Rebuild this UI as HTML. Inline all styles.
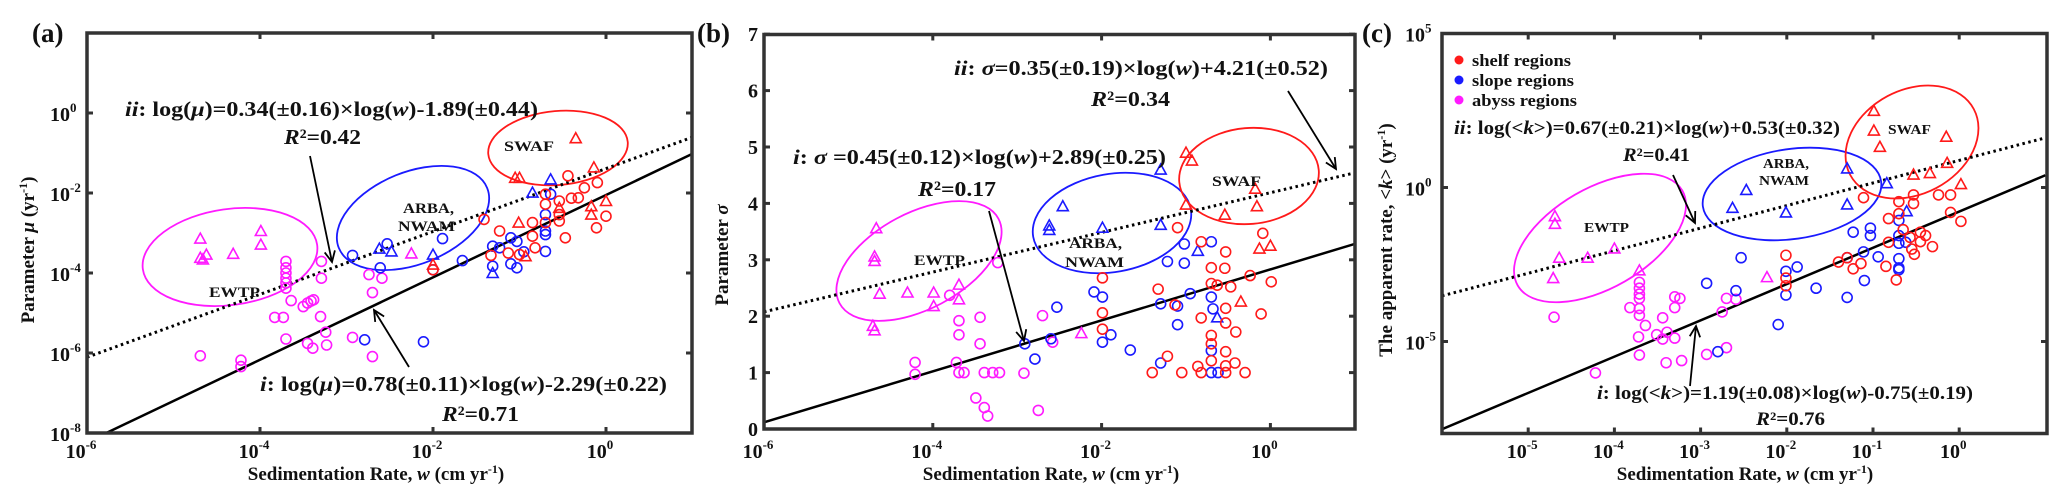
<!DOCTYPE html>
<html><head><meta charset="utf-8"><style>
html,body{margin:0;padding:0;background:#fff}
svg{display:block}
text{font-family:"Liberation Serif",serif;font-weight:bold;fill:#111}
</style></head><body>
<svg id="fig" width="2067" height="494" viewBox="0 0 2067 494" xmlns="http://www.w3.org/2000/svg">
<defs>
<clipPath id="clipA"><rect x="87" y="33" width="605" height="400"/></clipPath>
<clipPath id="clipB"><rect x="764" y="34.5" width="591" height="394.5"/></clipPath>
<clipPath id="clipC"><rect x="1442" y="33.5" width="605" height="400"/></clipPath>
</defs>
<g id="layer"></g>
<!-- panel labels -->
<text x="32" y="42" font-size="27">(a)</text>
<text x="697" y="42" font-size="27">(b)</text>
<text x="1362" y="42" font-size="27">(c)</text>
<!-- axis titles -->
<text x="376" y="480" font-size="19" text-anchor="middle">Sedimentation Rate, <tspan font-style="italic">w</tspan> (cm yr<tspan dy="-7" font-size="12">-1</tspan><tspan dy="7">)</tspan></text>
<text x="1051" y="480" font-size="19" text-anchor="middle">Sedimentation Rate, <tspan font-style="italic">w</tspan> (cm yr<tspan dy="-7" font-size="12">-1</tspan><tspan dy="7">)</tspan></text>
<text x="1745" y="480" font-size="19" text-anchor="middle">Sedimentation Rate, <tspan font-style="italic">w</tspan> (cm yr<tspan dy="-7" font-size="12">-1</tspan><tspan dy="7">)</tspan></text>
<text transform="translate(34,250) rotate(-90)" font-size="19" text-anchor="middle">Parameter <tspan font-style="italic">μ</tspan> (yr<tspan dy="-7" font-size="12">-1</tspan><tspan dy="7">)</tspan></text>
<text transform="translate(728,255) rotate(-90)" font-size="19" text-anchor="middle">Parameter <tspan font-style="italic">σ</tspan></text>
<text transform="translate(1392,240) rotate(-90)" font-size="19" text-anchor="middle">The apparent rate, &lt;<tspan font-style="italic">k</tspan>&gt; (yr<tspan dy="-7" font-size="12">-1</tspan><tspan dy="7">)</tspan></text>
<!-- annotations A -->
<text x="125" y="116" font-size="21" textLength="413" lengthAdjust="spacingAndGlyphs"><tspan font-style="italic">ii</tspan>: log(<tspan font-style="italic">μ</tspan>)=0.34(±0.16)×log(<tspan font-style="italic">w</tspan>)-1.89(±0.44)</text>
<text x="284" y="144" font-size="21" textLength="77" lengthAdjust="spacingAndGlyphs"><tspan font-style="italic">R</tspan>²=0.42</text>
<text x="260" y="391" font-size="21" textLength="407" lengthAdjust="spacingAndGlyphs"><tspan font-style="italic">i</tspan>: log(<tspan font-style="italic">μ</tspan>)=0.78(±0.11)×log(<tspan font-style="italic">w</tspan>)-2.29(±0.22)</text>
<text x="442" y="421" font-size="21" textLength="77" lengthAdjust="spacingAndGlyphs"><tspan font-style="italic">R</tspan>²=0.71</text>
<text x="504" y="151" font-size="15" textLength="50" lengthAdjust="spacingAndGlyphs">SWAF</text>
<text x="403" y="213" font-size="15" textLength="51" lengthAdjust="spacingAndGlyphs">ARBA,</text>
<text x="398" y="231" font-size="15" textLength="57" lengthAdjust="spacingAndGlyphs">NWAM</text>
<text x="209" y="297" font-size="15" textLength="51" lengthAdjust="spacingAndGlyphs">EWTP</text>
<!-- annotations B -->
<text x="954" y="75" font-size="21" textLength="374" lengthAdjust="spacingAndGlyphs"><tspan font-style="italic">ii</tspan>: <tspan font-style="italic">σ</tspan>=0.35(±0.19)×log(<tspan font-style="italic">w</tspan>)+4.21(±0.52)</text>
<text x="1091" y="106" font-size="21" textLength="79" lengthAdjust="spacingAndGlyphs"><tspan font-style="italic">R</tspan>²=0.34</text>
<text x="793" y="164" font-size="21" textLength="373" lengthAdjust="spacingAndGlyphs"><tspan font-style="italic">i</tspan>: <tspan font-style="italic">σ</tspan> =0.45(±0.12)×log(<tspan font-style="italic">w</tspan>)+2.89(±0.25)</text>
<text x="918" y="196" font-size="21" textLength="78" lengthAdjust="spacingAndGlyphs"><tspan font-style="italic">R</tspan>²=0.17</text>
<text x="1212" y="186" font-size="15" textLength="49" lengthAdjust="spacingAndGlyphs">SWAF</text>
<text x="1069" y="248" font-size="15" textLength="53" lengthAdjust="spacingAndGlyphs">ARBA,</text>
<text x="1065" y="267" font-size="15" textLength="59" lengthAdjust="spacingAndGlyphs">NWAM</text>
<text x="914" y="265" font-size="15" textLength="51" lengthAdjust="spacingAndGlyphs">EWTP</text>
<!-- annotations C -->
<text x="1454" y="134" font-size="19" textLength="386" lengthAdjust="spacingAndGlyphs"><tspan font-style="italic">ii</tspan>: log(&lt;<tspan font-style="italic">k</tspan>&gt;)=0.67(±0.21)×log(<tspan font-style="italic">w</tspan>)+0.53(±0.32)</text>
<text x="1623" y="161" font-size="19" textLength="67" lengthAdjust="spacingAndGlyphs"><tspan font-style="italic">R</tspan>²=0.41</text>
<text x="1597" y="399" font-size="19" textLength="376" lengthAdjust="spacingAndGlyphs"><tspan font-style="italic">i</tspan>: log(&lt;<tspan font-style="italic">k</tspan>&gt;)=1.19(±0.08)×log(<tspan font-style="italic">w</tspan>)-0.75(±0.19)</text>
<text x="1756" y="425" font-size="19" textLength="69" lengthAdjust="spacingAndGlyphs"><tspan font-style="italic">R</tspan>²=0.76</text>
<text x="1888" y="134" font-size="14" textLength="43" lengthAdjust="spacingAndGlyphs">SWAF</text>
<text x="1763" y="168" font-size="14" textLength="46" lengthAdjust="spacingAndGlyphs">ARBA,</text>
<text x="1759" y="185" font-size="14" textLength="50" lengthAdjust="spacingAndGlyphs">NWAM</text>
<text x="1584" y="232" font-size="14" textLength="45" lengthAdjust="spacingAndGlyphs">EWTP</text>
<!-- legend C -->
<g>
<circle cx="1459" cy="60" r="4.5" fill="#ff1a1a"/>
<text x="1472" y="66" font-size="17" textLength="99" lengthAdjust="spacingAndGlyphs">shelf regions</text>
<circle cx="1459" cy="80" r="4.5" fill="#1a1aff"/>
<text x="1472" y="86" font-size="17" textLength="102" lengthAdjust="spacingAndGlyphs">slope regions</text>
<circle cx="1459" cy="100" r="4.5" fill="#ff1aff"/>
<text x="1472" y="106" font-size="17" textLength="105" lengthAdjust="spacingAndGlyphs">abyss regions</text>
</g>
</svg>
<script>
// ===== Panel A data: [log10 w, log10 mu] =====
const aMagTri=[[-4.69,-3.14],[-4.69,-3.62],[-4.62,-3.54],[-4.66,-3.66],[-4.31,-3.52],[-3.99,-2.95],[-3.99,-3.29],[-2.25,-3.51]];
const aMagCir=[[-4.69,-6.07],[-4.22,-6.18],[-4.22,-6.34],[-3.7,-3.71],[-3.7,-3.87],[-3.7,-4.0],[-3.7,-4.13],[-3.7,-4.25],[-3.7,-4.38],[-3.64,-4.69],[-3.83,-5.11],[-3.73,-5.11],[-3.7,-5.65],[-3.5,-4.84],[-3.45,-4.75],[-3.41,-4.7],[-3.38,-4.67],[-3.29,-3.71],[-3.29,-4.13],[-3.3,-5.09],[-3.24,-5.48],[-3.23,-5.8],[-3.45,-5.76],[-3.39,-5.88],[-2.93,-5.61],[-2.74,-4.04],[-2.59,-4.13],[-2.7,-4.49],[-2.7,-6.09]];
const aBluTri=[[-2.62,-3.39],[-2.48,-3.46],[-2.0,-3.54],[-1.31,-4.0],[-0.85,-1.99],[-0.64,-1.66]];
const aBluCir=[[-2.93,-3.56],[-2.53,-3.27],[-2.61,-3.87],[-2.79,-5.67],[-2.11,-5.72],[-2.0,-3.92],[-1.89,-3.14],[-1.66,-3.69],[-1.31,-3.33],[-1.31,-3.83],[-1.23,-3.37],[-1.1,-3.12],[-1.03,-3.21],[-1.1,-3.77],[-1.03,-3.87],[-0.95,-3.47],[-0.7,-2.54],[-0.7,-3.04],[-0.7,-3.46],[-0.7,-2.95],[-0.64,-2.03]];
const aRedTri=[[-0.35,-0.63],[-1.05,-1.62],[-1.0,-1.62],[-0.14,-1.36],[0.0,-2.2],[-0.17,-2.33],[-0.17,-2.54],[-1.01,-2.74],[-0.93,-3.58],[-2.0,-3.79],[-0.54,-2.37]];
const aRedCir=[[-1.41,-2.66],[-1.23,-2.95],[-1.33,-3.56],[-1.13,-3.5],[-0.85,-2.74],[-0.85,-3.08],[-0.82,-3.37],[-0.7,-2.28],[-0.7,-2.74],[-0.54,-2.2],[-0.54,-2.54],[-0.54,-2.7],[-0.47,-3.12],[-0.44,-1.57],[-0.4,-2.13],[-0.32,-2.12],[-0.25,-1.87],[-0.1,-1.74],[-0.11,-2.87],[0.0,-2.58],[-1.0,-3.54],[-2.0,-3.92],[-0.7,-2.03]];
const aFitSolid=[1.03,-2.05]; // slope, intercept as plotted
const aFitDotted=[0.786,-1.39];
const aXTicks=[-6,-4,-2,0];
const aYTicks=[-8,-6,-4,-2,0];

// ===== Panel B data: [log10 w, sigma] =====
const bMagTri=[[-4.67,3.56],[-4.69,3.06],[-4.69,2.98],[-4.63,2.4],[-4.3,2.42],[-3.99,2.42],[-3.99,2.18],[-3.69,2.56],[-3.69,2.3],[-4.71,1.83],[-4.69,1.75],[-2.24,1.7]];
const bMagCir=[[-3.23,2.95],[-3.8,2.37],[-3.69,1.92],[-3.69,1.67],[-3.44,1.98],[-3.44,1.51],[-4.21,1.18],[-4.21,0.97],[-3.72,1.18],[-3.69,1.0],[-3.63,1.0],[-3.39,1.0],[-3.29,1.0],[-3.21,1.0],[-2.92,0.99],[-3.49,0.55],[-3.39,0.38],[-3.35,0.23],[-2.7,2.01],[-2.58,1.54],[-2.75,0.33]];
const bBluTri=[[-2.62,3.61],[-2.62,3.53],[-2.46,3.95],[-1.99,3.57],[-1.3,4.6],[-1.3,3.62],[-0.86,3.16],[-0.63,1.98]];
const bBluCir=[[-2.91,1.51],[-2.79,1.24],[-2.6,1.6],[-2.53,2.16],[-2.09,2.43],[-1.99,2.34],[-1.99,1.54],[-1.89,1.67],[-1.66,1.4],[-1.3,2.22],[-1.3,1.17],[-1.22,2.97],[-1.1,2.18],[-1.1,1.85],[-1.02,3.28],[-1.02,2.94],[-0.95,2.4],[-0.7,3.32],[-0.7,2.34],[-0.7,1.39],[-0.7,1.0],[-0.62,1.0],[-0.68,2.13]];
const bRedTri=[[-1.0,4.9],[-0.93,4.76],[-1.0,3.98],[-0.54,3.8],[-0.18,4.26],[-0.16,3.95],[-0.13,3.2],[0.0,3.25],[-0.35,2.26]];
const bRedCir=[[-1.99,2.68],[-1.99,2.06],[-1.99,1.77],[-1.4,1.0],[-1.33,2.48],[-1.22,1.29],[-1.13,2.2],[-1.1,3.57],[-1.05,1.0],[-0.82,3.32],[-0.82,1.97],[-0.86,1.11],[-0.82,1.0],[-0.7,2.86],[-0.7,2.58],[-0.7,1.66],[-0.7,1.51],[-0.7,1.21],[-0.63,2.55],[-0.54,2.85],[-0.53,3.14],[-0.53,2.14],[-0.53,1.88],[-0.53,1.37],[-0.53,1.12],[-0.53,1.0],[-0.47,2.52],[-0.41,1.72],[-0.42,1.17],[-0.3,1.0],[-0.24,2.72],[-0.11,2.04],[-0.09,3.47],[0.01,2.61]];
const bFitSolid=[0.452,2.83];
const bFitDotted=[0.352,4.19];
const bXTicks=[-6,-4,-2,0];
const bYTicks=[0,1,2,3,4,5,6,7];

// ===== Panel C data: [log10 w, log10 k] =====
const cMagTri=[[-4.69,-0.93],[-4.69,-1.18],[-4.64,-2.28],[-4.71,-2.94],[-4.31,-2.28],[-4.0,-1.98],[-3.71,-2.69],[-2.23,-2.91]];
const cMagCir=[[-4.7,-4.21],[-4.22,-6.02],[-3.71,-3.08],[-3.71,-3.27],[-3.71,-3.46],[-3.71,-3.6],[-3.82,-3.9],[-3.71,-3.93],[-3.71,-4.15],[-3.64,-4.48],[-3.72,-4.85],[-3.71,-5.44],[-3.44,-4.23],[-3.51,-4.78],[-3.44,-4.92],[-3.39,-4.7],[-3.3,-4.89],[-3.3,-3.55],[-3.24,-3.6],[-3.3,-3.9],[-3.4,-5.69],[-3.22,-5.62],[-2.93,-5.42],[-2.7,-5.2],[-2.7,-3.6],[-2.75,-4.04],[-2.59,-3.63]];
const cBluTri=[[-2.63,-0.66],[-2.47,-0.08],[-2.01,-0.81],[-1.3,0.62],[-1.3,-0.55],[-0.84,0.14],[-0.61,-0.77]];
const cBluCir=[[-2.93,-3.11],[-2.8,-5.33],[-2.59,-3.35],[-2.53,-2.28],[-2.1,-4.45],[-2.01,-2.72],[-2.01,-3.49],[-1.88,-2.58],[-1.66,-3.27],[-1.3,-2.28],[-1.3,-3.57],[-1.23,-1.45],[-1.11,-2.09],[-1.1,-3.02],[-1.03,-1.32],[-1.03,-1.56],[-0.94,-2.25],[-0.7,-1.07],[-0.7,-1.56],[-0.7,-1.81],[-0.7,-2.31],[-0.7,-2.61],[-0.7,-2.67],[-0.62,-1.78]];
const cRedTri=[[-0.99,2.49],[-0.99,1.85],[-0.92,1.32],[-0.15,1.65],[-0.14,0.8],[-0.53,0.42],[-0.34,0.47],[0.02,0.11]];
const cRedCir=[[-2.01,-2.2],[-2.01,-2.94],[-2.01,-3.19],[-1.4,-2.42],[-1.3,-2.28],[-1.23,-2.64],[-1.14,-2.47],[-1.11,-0.33],[-0.85,-2.56],[-0.82,-1.01],[-0.82,-1.78],[-0.73,-3.0],[-0.7,-0.46],[-0.7,-0.85],[-0.65,-1.37],[-0.57,-1.62],[-0.55,-2.0],[-0.53,-0.24],[-0.53,-0.52],[-0.52,-2.17],[-0.45,-1.45],[-0.45,-1.76],[-0.39,-1.56],[-0.31,-1.92],[-0.24,-0.24],[-0.1,-0.24],[-0.1,-0.81],[0.02,-1.1]];
const cFitSolid=[1.178,-0.78];
const cFitDotted=[0.733,0.88];
const cXTicks=[-5,-4,-3,-2,-1,0];
const cYTicks=[-5,0,5];

const NS='http://www.w3.org/2000/svg';
const layer=document.getElementById('layer');
const RED='#ff1a1a',BLUE='#1a1aff',MAG='#ff1aff';
function el(tag,attrs,parent){const e=document.createElementNS(NS,tag);for(const k in attrs)e.setAttribute(k,attrs[k]);(parent||layer).appendChild(e);return e;}

const A={id:'a',L:87,T:33,W:605,H:400,x:v=>87+(v+6)*86.5,y:v=>33+(2-v)*40,x0:-6,x1:1,clip:'clipA',log:true};
const B={id:'b',L:764,T:34.5,W:591,H:394.5,x:v=>764+(v+6)*84.4,y:v=>429-v*56.4,x0:-6,x1:1,clip:'clipB',log:false};
const C={id:'c',L:1442,T:33.5,W:605,H:400,x:v=>1442+(v+6)*86.2,y:v=>33.5+(5-v)*30.8,x0:-6,x1:1,clip:'clipC',log:true};

function drawFrame(P,xt,yt){
  const g=el('g',{});
  
  
  for(const v of xt){const px=P.x(v);
    const t1=el('line',{x1:px,y1:P.T+P.H,x2:px,y2:P.T+P.H-6,stroke:'#333','stroke-width':3},g);
    
    
    el('line',{x1:px,y1:P.T,x2:px,y2:P.T+6,stroke:'#333','stroke-width':3},g);
    const tx=el('text',{x:px-6,y:458,'font-size':20,'text-anchor':'middle'},g);
    
    
    tx.textContent='10';
    const s=el('tspan',{dy:-9,'font-size':13},tx);s.textContent=String(v);
  }
  for(const v of yt){const py=P.y(v);
    const t1=el('line',{x1:P.L,y1:py,x2:P.L+6,y2:py,stroke:'#333','stroke-width':3},g);
    
    
    el('line',{x1:P.L+P.W,y1:py,x2:P.L+P.W-6,y2:py,stroke:'#333','stroke-width':3},g);
    if(P.log){
      const tx=el('text',{x:P.L-17,y:py+8,'font-size':20,'text-anchor':'end'},g);
      
      
      tx.textContent='10';
      const s=el('tspan',{x:P.L-17,dy:-9,'font-size':13,'text-anchor':'start'},tx);s.textContent=String(v);
    } else {
      const tx=el('text',{x:P.L-6,y:py+7,'font-size':20,'text-anchor':'end'},g);
      
      
      tx.textContent=String(v);
    }
  }
  const r=el('rect',{x:P.L,y:P.T,width:P.W,height:P.H,fill:'none',stroke:'#333','stroke-width':3.5},g);
  
  
}
function drawFit(P,fit,dotted,name){
  const l=el('line',{x1:P.x(P.x0),y1:P.y(fit[0]*P.x0+fit[1]),x2:P.x(P.x1),y2:P.y(fit[0]*P.x1+fit[1]),stroke:'#000','stroke-width':dotted?3:2.5,'stroke-dasharray':dotted?'2.5 3.5':'none','clip-path':'url(#'+P.clip+')'});
  
  
}
function drawSeries(P,data,shape,color,name){
  const g=el('g',{'clip-path':'url(#'+P.clip+')'});
  
  
  for(const d of data){const px=P.x(d[0]),py=P.y(d[1]);let m;
    if(shape==='c') m=el('ellipse',{cx:px,cy:py,rx:5,ry:5,fill:'none',stroke:color,'stroke-width':1.6},g);
    else m=el('polygon',{points:`${px},${py-5.5} ${px-5.5},${py+4.5} ${px+5.5},${py+4.5}`,fill:'none',stroke:color,'stroke-width':1.6},g);
    
    
  }
}
function drawEllipse(cx,cy,a,b,rot,color,name){
  const e=el('ellipse',{cx:cx,cy:cy,rx:a,ry:b,transform:`rotate(${rot} ${cx} ${cy})`,fill:'none',stroke:color,'stroke-width':1.8});
  
  
}
function drawArrow(x1,y1,x2,y2,name){
  const g=el('g',{});
  
  
  el('line',{x1,y1,x2,y2,stroke:'#000','stroke-width':1.8},g);
  const ang=Math.atan2(y2-y1,x2-x1),L=12,w=0.45;
  el('polyline',{points:`${x2-L*Math.cos(ang-w)},${y2-L*Math.sin(ang-w)} ${x2},${y2} ${x2-L*Math.cos(ang+w)},${y2-L*Math.sin(ang+w)}`,fill:'none',stroke:'#000','stroke-width':1.8},g);
}

// Panel A
drawEllipse(230,257,88,48,-8,MAG,'ewtp-ellipse-a');
drawEllipse(413,218,80,46,-22,BLUE,'arba-nwam-ellipse-a');
drawEllipse(558,148,70,37,-5,RED,'swaf-ellipse-a');
drawFit(A,aFitDotted,true,'fit-line-ii-a');
drawFit(A,aFitSolid,false,'fit-line-i-a');
drawSeries(A,aMagCir,'c',MAG,'abyss-circles-a');
drawSeries(A,aMagTri,'t',MAG,'abyss-triangles-a');
drawSeries(A,aBluCir,'c',BLUE,'slope-circles-a');
drawSeries(A,aBluTri,'t',BLUE,'slope-triangles-a');
drawSeries(A,aRedCir,'c',RED,'shelf-circles-a');
drawSeries(A,aRedTri,'t',RED,'shelf-triangles-a');
drawArrow(310,156,332,262,'arrow-ii-a');
drawArrow(409,367,374,310,'arrow-i-a');
drawFrame(A,aXTicks,aYTicks);

// Panel B
drawEllipse(919,261,90,48,-28,MAG,'ewtp-ellipse-b');
drawEllipse(1112,223,80,49,-10,BLUE,'arba-nwam-ellipse-b');
drawEllipse(1249,176,70,48,-5,RED,'swaf-ellipse-b');
drawFit(B,bFitDotted,true,'fit-line-ii-b');
drawFit(B,bFitSolid,false,'fit-line-i-b');
drawSeries(B,bMagCir,'c',MAG,'abyss-circles-b');
drawSeries(B,bMagTri,'t',MAG,'abyss-triangles-b');
drawSeries(B,bBluCir,'c',BLUE,'slope-circles-b');
drawSeries(B,bBluTri,'t',BLUE,'slope-triangles-b');
drawSeries(B,bRedCir,'c',RED,'shelf-circles-b');
drawSeries(B,bRedTri,'t',RED,'shelf-triangles-b');
drawArrow(1288,91,1336,169,'arrow-ii-b');
drawArrow(989,211,1024,341,'arrow-i-b');
drawFrame(B,bXTicks,bYTicks);

// Panel C
drawEllipse(1600,238,95,50,-30,MAG,'ewtp-ellipse-c');
drawEllipse(1792,194,90,45,-8,BLUE,'arba-nwam-ellipse-c');
drawEllipse(1912,142,70,52,-28,RED,'swaf-ellipse-c');
drawFit(C,cFitDotted,true,'fit-line-ii-c');
drawFit(C,cFitSolid,false,'fit-line-i-c');
drawSeries(C,cMagCir,'c',MAG,'abyss-circles-c');
drawSeries(C,cMagTri,'t',MAG,'abyss-triangles-c');
drawSeries(C,cBluCir,'c',BLUE,'slope-circles-c');
drawSeries(C,cBluTri,'t',BLUE,'slope-triangles-c');
drawSeries(C,cRedCir,'c',RED,'shelf-circles-c');
drawSeries(C,cRedTri,'t',RED,'shelf-triangles-c');
drawArrow(1673,175,1695,223,'arrow-ii-c');
drawArrow(1690,386,1696,326,'arrow-i-c');
drawFrame(C,cXTicks,cYTicks);
</script>
</body></html>
